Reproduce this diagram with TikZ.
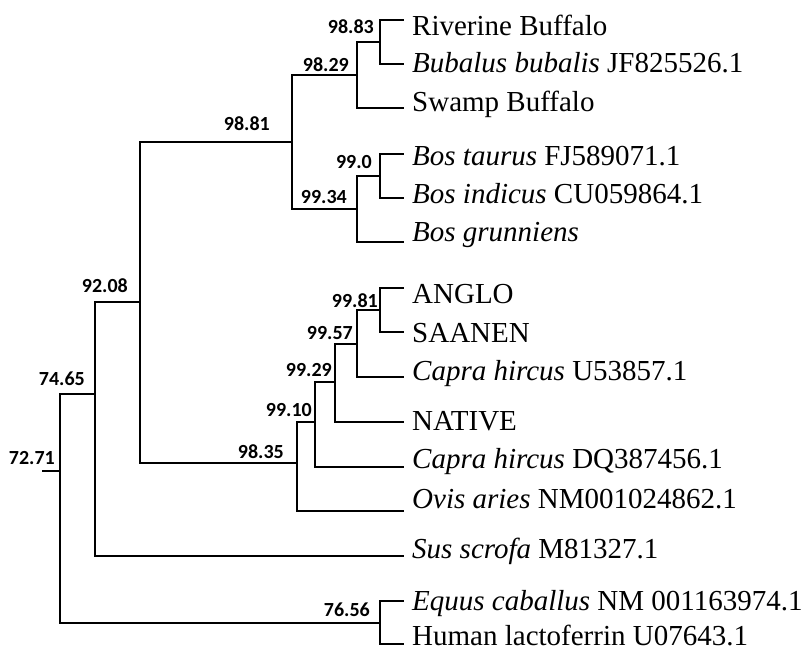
\documentclass[tikz,border=0pt]{standalone}
\usepackage{fontspec}
\setmainfont{Liberation Serif}
\newfontfamily\bsfont{Carlito}
\newcommand{\spc}[1]{\textit{#1}}

\begin{document}
\begin{tikzpicture}[x=1pt,y=-1pt,
  tree/.style={line width=2.2pt},
  leaf/.style={anchor=base west,inner sep=0pt,font=\fontsize{29}{29}\selectfont},
  boot/.style={anchor=base east,inner sep=0pt,font=\bsfont\bfseries\fontsize{20}{20}\selectfont}]
  \useasboundingbox (0,0) rectangle (808,648);

  % leaf tips
  \coordinate (tRB) at (404,20);
  \coordinate (tBB) at (404,64);
  \coordinate (tSB) at (404,108);
  \coordinate (tBT) at (404,154);
  \coordinate (tBI) at (404,198);
  \coordinate (tBG) at (404,242);
  \coordinate (tAN) at (404,288);
  \coordinate (tSA) at (404,332);
  \coordinate (tCU) at (404,377);
  \coordinate (tNA) at (404,422);
  \coordinate (tCD) at (404,467);
  \coordinate (tOA) at (404,511);
  \coordinate (tSS) at (404,556);
  \coordinate (tEC) at (404,601);
  \coordinate (tHL) at (404,644);

  % inner nodes
  \coordinate (n1)  at (380,42);
  \coordinate (n2)  at (357,75);
  \coordinate (n3)  at (380,176);
  \coordinate (n4)  at (357,209);
  \coordinate (n5)  at (292,142);
  \coordinate (n6)  at (380,310);
  \coordinate (n7)  at (357,344);
  \coordinate (n8)  at (335,382);
  \coordinate (n9)  at (315,422);
  \coordinate (n10) at (297,463);
  \coordinate (n11) at (140,302);
  \coordinate (n12) at (380,623);
  \coordinate (n13) at (95,394);
  \coordinate (n14) at (60,471);
  \coordinate (r0)  at (42,471);

  % names
  \node[leaf] (RB) at (412,35)  {Riverine Buffalo};
  \node[leaf] (BB) at (412,72)  {\spc{Bubalus bubalis} JF825526.1};
  \node[leaf] (SB) at (412,111) {Swamp Buffalo};
  \node[leaf] (BT) at (412,165) {\spc{Bos taurus} FJ589071.1};
  \node[leaf] (BI) at (412,203) {\spc{Bos indicus} CU059864.1};
  \node[leaf] (BG) at (412,241) {\spc{Bos grunniens}};
  \node[leaf] (AN) at (412,303) {ANGLO};
  \node[leaf] (SA) at (412,342) {SAANEN};
  \node[leaf] (CU) at (412,380) {\spc{Capra hircus} U53857.1};
  \node[leaf] (NA) at (412,430) {NATIVE};
  \node[leaf] (CD) at (412,468) {\spc{Capra hircus} DQ387456.1};
  \node[leaf] (OA) at (412,508) {\spc{Ovis aries} NM001024862.1};
  \node[leaf] (SS) at (412,558) {\spc{Sus scrofa} M81327.1};
  \node[leaf] (EC) at (412,610) {\spc{Equus caballus} NM 001163974.1};
  \node[leaf] (HL) at (412,645) {Human lactoferrin U07643.1};

  % branches
  \draw[tree] (n1) |- (tRB)  (n1) |- (tBB);
  \draw[tree] (n2) |- (n1)   (n2) |- (tSB);
  \draw[tree] (n3) |- (tBT)  (n3) |- (tBI);
  \draw[tree] (n4) |- (n3)   (n4) |- (tBG);
  \draw[tree] (n5) |- (n2)   (n5) |- (n4);
  \draw[tree] (n6) |- (tAN)  (n6) |- (tSA);
  \draw[tree] (n7) |- (n6)   (n7) |- (tCU);
  \draw[tree] (n8) |- (n7)   (n8) |- (tNA);
  \draw[tree] (n9) |- (n8)   (n9) |- (tCD);
  \draw[tree] (n10) |- (n9)  (n10) |- (tOA);
  \draw[tree] (n11) |- (n5)  (n11) |- (n10);
  \draw[tree] (n12) |- (tEC) (n12) |- (tHL);
  \draw[tree] (n13) |- (n11) (n13) |- (tSS);
  \draw[tree] (n14) |- (n13) (n14) |- (n12);
  \draw[tree] (r0) -- (n14);

  % bootstrap values
  \node[boot] (b1)  at (374,33)  {98.83};
  \node[boot] (b2)  at (349,71)  {98.29};
  \node[boot] (b3)  at (372,168) {99.0};
  \node[boot] (b4)  at (347,203) {99.34};
  \node[boot] (b5)  at (270,130) {98.81};
  \node[boot] (b6)  at (378,307) {99.81};
  \node[boot] (b7)  at (353,339) {99.57};
  \node[boot] (b8)  at (332,376) {99.29};
  \node[boot] (b9)  at (312,416) {99.10};
  \node[boot] (b10) at (284,458) {98.35};
  \node[boot] (b11) at (128,292) {92.08};
  \node[boot] (b12) at (370,616) {76.56};
  \node[boot] (b13) at (85,385)  {74.65};
  \node[boot] (b14) at (55,464)  {72.71};
\end{tikzpicture}
\end{document}
